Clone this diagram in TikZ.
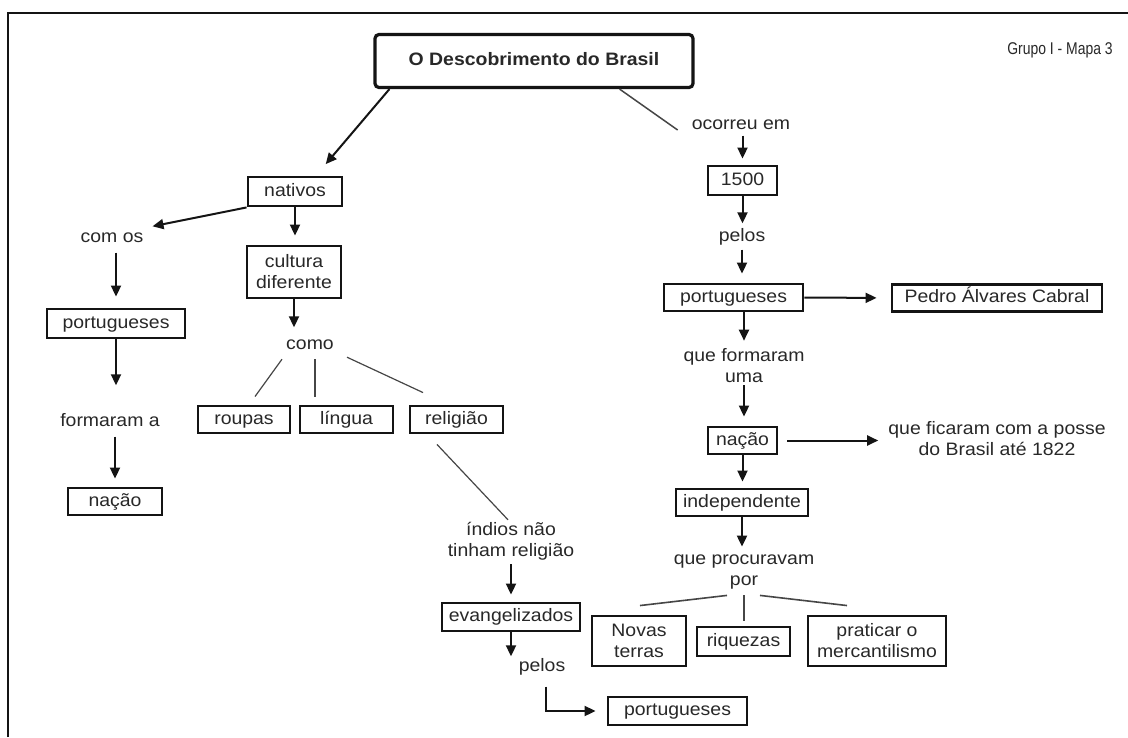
\documentclass[tikz,border=0pt]{standalone}
\usepackage{fontspec}
\setmainfont[FakeStretch=1.08]{Liberation Sans}
\newfontfamily\tagfont[FakeStretch=0.82]{Liberation Sans}
\usetikzlibrary{arrows.meta,calc}
\definecolor{ink}{RGB}{40,40,40}
\definecolor{edge}{RGB}{20,20,20}
\definecolor{wire}{RGB}{70,70,70}

\begin{document}
\begin{tikzpicture}[x=1pt,y=-1pt,
  txt/.style={inner sep=0pt, font=\fontsize{18}{21}\selectfont, text=ink, align=center},
  one/.style={text height=13pt, text depth=4pt},
  box/.style={draw=edge, line width=2.9pt, inner sep=0pt, font=\fontsize{18}{21}\selectfont,
    text=ink, align=center},
  arr/.style={-{Triangle[length=11pt,width=10pt]}, line width=2pt, draw=edge},
  thin/.style={line width=1.2pt, draw=wire}
]
\useasboundingbox (0,0) rectangle (1128,737);
\fill[white] (0,0) rectangle (1128,737);

% frame
\draw[line width=1.6pt, draw=edge] (8,737) -- (8,13) -- (1128,13);

% title and tag
\node[box, line width=3.2pt, rounded corners=4pt, minimum width=318pt, minimum height=53pt,
  font=\bfseries\fontsize{18}{21}\selectfont, one] (title) at (534,61) {O Descobrimento do Brasil};
\node[inner sep=0pt, font=\tagfont\fontsize{17}{19}\selectfont, text=ink] (tag) at (1060,50) {Grupo I - Mapa 3};

% ---------- left branch ----------
\node[box, one, minimum width=94pt, minimum height=29pt] (nativos) at (295,191.5) {nativos};
\node[txt, one] (comos) at (112,238) {com os};
\node[box, one, minimum width=138pt, minimum height=29pt] (portL) at (116,323.5) {portugueses};
\node[txt, one] (formaram) at (110,422) {formaram a};
\node[box, one, minimum width=94pt, minimum height=27pt] (nacaoL) at (115,501.5) {nação};

\node[box, minimum width=94pt, minimum height=52pt] (cultura) at (294,272) {cultura\\diferente};
\node[txt, one] (como) at (310,345) {como};
\node[box, one, minimum width=92pt, minimum height=27pt] (roupas) at (244,419.5) {roupas};
\node[box, one, minimum width=93pt, minimum height=27pt] (lingua) at (346.5,419.5) {língua};
\node[box, one, minimum width=93pt, minimum height=27pt] (religiao) at (456.5,419.5) {religião};
\node[txt] (indios) at (511,541) {índios não\\tinham religião};
\node[box, one, minimum width=138pt, minimum height=28pt] (evang) at (511,617) {evangelizados};
\node[txt, one] (pelosB) at (542,667) {pelos};
\node[box, one, minimum width=139pt, minimum height=28pt] (portB) at (677.5,711) {portugueses};

% ---------- right branch ----------
\node[txt, one] (ocorreu) at (741,125) {ocorreu em};
\node[box, one, minimum width=69pt, minimum height=29pt] (ano) at (742.5,180.5) {1500};
\node[txt, one] (pelosR) at (742,237) {pelos};
\node[box, one, minimum width=139pt, minimum height=27pt] (portR) at (733.5,297.5) {portugueses};
\node[box, one, minimum width=210pt, minimum height=27pt] (pedro) at (997,298) {Pedro Álvares Cabral};
\node[txt] (qform) at (744,366) {que formaram\\uma};
\node[box, one, minimum width=69pt, minimum height=27pt] (nacaoR) at (742.5,440.5) {nação};
\node[txt] (qfic) at (997,439) {que ficaram com a posse\\do Brasil até 1822};
\node[box, one, minimum width=132pt, minimum height=27pt] (indep) at (742,502.5) {independente};
\node[txt] (qproc) at (744,572) {que procuravam\\por};
\node[box, minimum width=94pt, minimum height=50pt] (novas) at (639,641) {Novas\\terras};
\node[box, one, minimum width=93pt, minimum height=29pt] (riquezas) at (743.5,641.5) {riquezas};
\node[box, minimum width=138pt, minimum height=50pt] (praticar) at (877,641) {praticar o\\mercantilismo};

% ---------- connectors, left ----------
\draw[arr, shorten >=15pt] (title.191) -- ($(nativos.north)+(21,0)$);
\draw[arr] (nativos.south west) -- ($(comos.north east)+(9,-3)$);
\draw[arr, shorten <=6pt, shorten >=11pt] (comos.south -| portL.north) -- (portL.north);
\draw[arr, shorten >=28pt] (portL.south) -- (portL.south |- formaram.north);
\draw[arr, shorten <=6pt, shorten >=8pt] (formaram.south -| nacaoL.north) -- (nacaoL.north);
\draw[arr, shorten >=9pt] (nativos.south) -- (nativos.south |- cultura.north);
\draw[arr, shorten >=9pt] (cultura.south) -- (cultura.south |- como.north);
\draw[thin] ($(como.south)+(-28,5.5)$) -- ($(roupas.north)+(11,-8)$);
\draw[thin] ($(como.south)+(5,5.5)$) -- ($(lingua.north)+(-31.5,-8)$);
\draw[thin] ($(como.south)+(37,3.5)$) -- ($(religiao.north)+(-33.5,-12)$);
\draw[thin] ($(religiao.south)+(-19.5,10)$) -- ($(indios.north)+(-3,-2)$);
\draw[arr, shorten <=4pt, shorten >=7pt] (indios.south) -- (indios.south |- evang.north);
\draw[arr, shorten >=2pt] (evang.south) -- (evang.south |- pelosB.north);
\draw[arr, shorten >=11pt] ($(pelosB.south)+(4,11)$) |- (portB.west);

% ---------- connectors, right ----------
\draw[thin, line width=1.5pt] ($(title.south east)+(-75,0)$) -- ($(ocorreu.west)+(-14,5)$);
\draw[arr, shorten <=2pt, shorten >=6pt] (ocorreu.south -| ano.north) -- (ano.north);
\draw[arr, shorten >=5pt] (ano.south) -- (ano.south |- pelosR.north);
\draw[arr, shorten <=4pt, shorten >=9pt] (pelosR.south) -- (pelosR.south |- portR.north);
\draw[arr, shorten >=14pt] (portR.east) -- (pedro.west);
\draw[arr, shorten >=8pt] (qform.north |- portR.south) -- (qform.north);
\draw[arr, shorten <=2pt, shorten >=9pt] (qform.south) -- (qform.south |- nacaoR.north);
\draw[arr, shorten <=9pt, shorten >=10pt] (nacaoR.east) -- (nacaoR.east -| qfic.west);
\draw[arr, shorten >=6pt] (nacaoR.south) -- (nacaoR.south |- indep.north);
\draw[arr, shorten >=8pt] (indep.south) -- (indep.south |- qproc.north);
\draw[thin, line width=1.6pt] ($(qproc.south)+(-17,6)$) -- ($(novas.north)+(1,-9)$);
\draw[thin, line width=1.6pt] ($(qproc.south)+(0,6)$) -- ($(riquezas.north)+(0.5,-5)$);
\draw[thin, line width=1.6pt] ($(qproc.south)+(16,6)$) -- ($(praticar.north)+(-30,-9)$);
\end{tikzpicture}
\end{document}
